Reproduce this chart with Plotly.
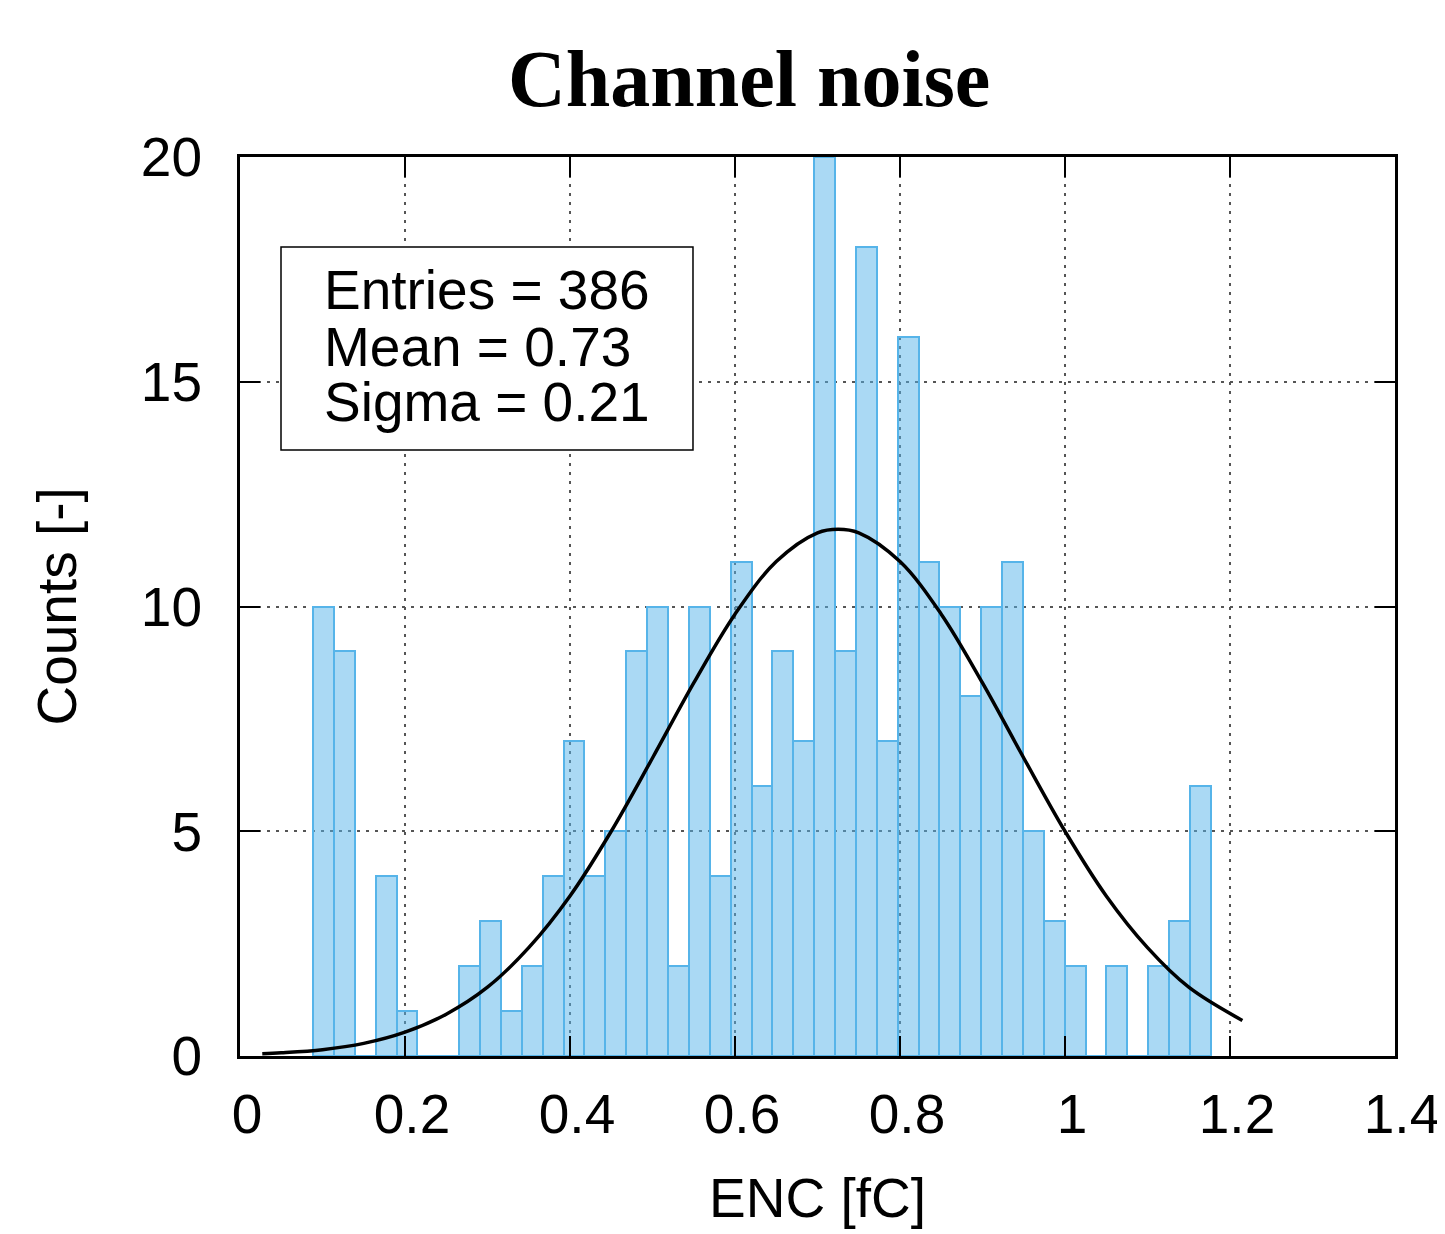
import plotly.graph_objects as go

# ---- data ----
bin_start = 0.0885
bin_width = 0.02531
counts = [10, 9, 0, 4, 1, 0, 0, 2, 3, 1, 2, 4, 7, 4, 5, 9, 10, 2, 10, 4,
          11, 6, 9, 7, 20, 9, 18, 7, 16, 11, 10, 8, 10, 11, 5, 3, 2, 0, 2, 0,
          2, 3, 6]

curve_x = [0.027, 0.05, 0.10, 0.15, 0.20, 0.25, 0.30, 0.35, 0.40, 0.45, 0.50,
           0.55, 0.60, 0.65, 0.70, 0.725, 0.75, 0.80, 0.85, 0.90, 0.95, 1.00,
           1.05, 1.10, 1.15, 1.215]
curve_y = [0.05, 0.07, 0.14, 0.28, 0.53, 0.93, 1.53, 2.41, 3.56, 5.00, 6.63,
           8.30, 9.83, 11.0, 11.64, 11.72, 11.64, 11.0, 9.83, 8.30, 6.63, 5.00,
           3.56, 2.41, 1.53, 0.79]

stats_lines = ["Entries = 386", "Mean = 0.73", "Sigma = 0.21"]
x_ticks = [0, 0.2, 0.4, 0.6, 0.8, 1.0, 1.2, 1.4]
x_tick_text = ["0", "0.2", "0.4", "0.6", "0.8", "1", "1.2", "1.4"]
y_ticks = [0, 5, 10, 15, 20]

bin_centers = [bin_start + (i + 0.5) * bin_width for i in range(len(counts))]

FONT = "Liberation Sans, Arial, sans-serif"

fig = go.Figure()
fig.add_trace(go.Bar(
    x=bin_centers, y=counts, width=bin_width,
    marker=dict(color="rgba(86,180,233,0.5)",
                line=dict(color="#56B4E9", width=2)),
    showlegend=False,
))
fig.add_trace(go.Scatter(
    x=curve_x, y=curve_y, mode="lines",
    line=dict(color="black", width=3.5, shape="spline"),
    showlegend=False,
))

axis_common = dict(
    showline=True, linecolor="black", linewidth=3, mirror="ticks",
    ticks="inside", ticklen=20, tickwidth=1.5, tickcolor="black",
    showgrid=True, gridcolor="#555555", gridwidth=1.5, griddash="3px,6px",
    zeroline=False,
    tickfont=dict(family=FONT, size=55, color="black"),
)

fig.update_xaxes(range=[0, 1.4], tickvals=x_ticks, ticktext=x_tick_text,
                 ticklabelstandoff=8, ticklabelshift=7, **axis_common)
fig.update_yaxes(range=[0, 20], tickvals=y_ticks,
                 ticklabelstandoff=24, **axis_common)

annotations = [
    dict(text="<b>Channel noise</b>", x=0.4407, y=1.0868, xref="paper", yref="paper",
         xanchor="center", yanchor="middle", showarrow=False,
         font=dict(family="Liberation Serif, Times New Roman, serif", size=80, color="black")),
    dict(text="Counts [-]", x=-0.158, y=0.4994, xref="paper", yref="paper",
         xanchor="center", yanchor="middle", textangle=-90, showarrow=False,
         font=dict(family=FONT, size=55, color="black")),
    dict(text="ENC [fC]", x=0.5004, y=-0.158, xref="paper", yref="paper",
         xanchor="center", yanchor="middle", showarrow=False,
         font=dict(family=FONT, size=55, color="black")),
]
stat_y = [0.852, 0.789, 0.7275]
for line, yy in zip(stats_lines, stat_y):
    annotations.append(dict(text=line, x=0.071, y=yy, xref="paper", yref="paper",
                            xanchor="left", yanchor="middle", showarrow=False,
                            font=dict(family=FONT, size=55, color="black")))

fig.update_layout(
    width=1445, height=1234,
    margin=dict(l=232, r=58, t=149, b=186),
    paper_bgcolor="white", plot_bgcolor="white",
    bargap=0,
    annotations=annotations,
    shapes=[dict(type="rect", xref="paper", yref="paper",
                 x0=0.0355, x1=0.3922, y0=0.674, y1=0.8999,
                 line=dict(color="black", width=1.5), fillcolor="white", layer="above")],
)

fig.write_html("out.html")
